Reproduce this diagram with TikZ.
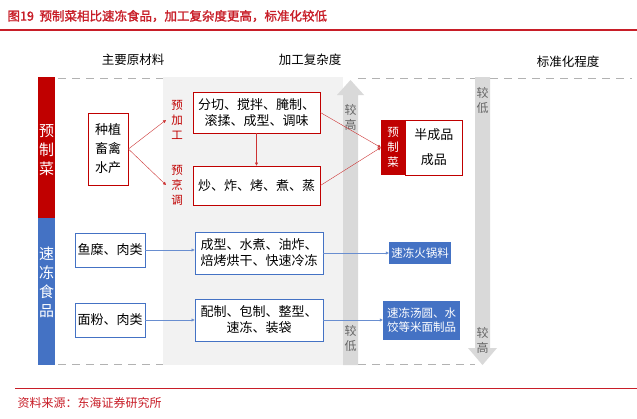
\documentclass[tikz,border=0pt]{standalone}
\usepackage{fontspec}
\setmainfont{Noto Sans CJK SC}
\newfontfamily\cjkb[FakeBold=1.5]{Noto Sans CJK SC}
\usetikzlibrary{arrows.meta}
\definecolor{rd}{RGB}{192,0,0}
\definecolor{tred}{RGB}{200,30,40}
\definecolor{bl}{RGB}{68,114,196}
\definecolor{gp}{RGB}{242,242,242}
\definecolor{ga}{RGB}{217,217,217}
\begin{document}
\begin{tikzpicture}[x=1pt,y=-1pt,
  rbox/.style={draw=rd,thick,fill=white,align=center,font=\fontsize{13}{16}\selectfont,inner sep=0pt},
  bbox/.style={draw=bl,thick,fill=white,align=center,font=\fontsize{13}{16}\selectfont,inner sep=0pt},
  bfill/.style={fill=bl,text=white,align=center,font=\fontsize{11.5}{14}\selectfont,inner sep=0pt},
  rarr/.style={-{Triangle[length=3pt,width=3pt]},draw=rd!80,thin},
  barr/.style={-{Triangle[length=3pt,width=3pt]},draw=bl!80,thin},
  vt/.style={align=center,font=\fontsize{12}{15}\selectfont,text=gray!80!black},
  lbl/.style={font=\fontsize{12.5}{14}\selectfont},
]
\useasboundingbox (0,0) rectangle (637,418);
\fill[white] (0,0) rectangle (637,418);
\node[anchor=west,text=tred,font=\cjkb\fontsize{12.5}{14}\selectfont] (title) at (4,16) {图19\ \ 预制菜相比速冻食品，加工复杂度更高，标准化较低};
\draw[tred,line width=1.2pt] (0,30) -- (637,30);
\node[lbl] (h1) at (133,60) {主要原材料};
\node[lbl] (h2) at (310,60) {加工复杂度};
\node[lbl] (h3) at (568,62) {标准化程度};
% panel
\fill[gp] (163,77) rectangle (343,365);
\draw[gray!60,dash pattern=on 8pt off 6pt,line width=1pt] (58,78) -- (163,78) (358,78) -- (475,78) (490,78)--(632,78);
\draw[gray!60,dash pattern=on 8pt off 6pt,line width=1pt] (58,364) -- (163,364) (358,364) -- (475,364);
% vertical arrows
\fill[ga] (343,365) -- (343,95) -- (337,95) -- (350.5,80) -- (364,95) -- (358,95) -- (358,365) -- cycle;
\node[vt] (gh) at (350.5,117) {较\\高};
\node[vt] (gl) at (350.5,338) {较\\低};
\fill[ga] (475,77) -- (490,77) -- (490,348) -- (497,348) -- (482.5,365) -- (468,348) -- (475,348) -- cycle;
\node[vt] (rl) at (482.5,100) {较\\低};
\node[vt] (rh) at (482.5,340) {较\\高};
% side bars
\fill[rd] (38,77) rectangle (55,218);
\fill[bl] (38,218) rectangle (55,365);
\node[text=white,align=center,font=\fontsize{15}{19}\selectfont] (s1) at (46.5,150) {预\\制\\菜};
\node[text=white,align=center,font=\fontsize{15}{19}\selectfont] (s2) at (46.5,282) {速\\冻\\食\\品};
% red section
\node[rbox,minimum width=40pt,minimum height=72pt,font=\fontsize{13}{19}\selectfont] (raw) at (108,149) {种植\\畜禽\\水产};
\node[text=rd,align=center,font=\fontsize{11.5}{15}\selectfont] (p1) at (177,120) {预\\加\\工};
\node[text=rd,align=center,font=\fontsize{11.5}{15}\selectfont] (p2) at (177,185) {预\\烹\\调};
\node[rbox,minimum width=127pt,minimum height=41pt] (b1) at (256.5,112.5) {分切、搅拌、腌制、\\滚揉、成型、调味};
\node[rbox,minimum width=127pt,minimum height=39pt] (b2) at (256.5,185.5) {炒、炸、烤、煮、蒸};
\node[fill=rd,text=white,align=center,minimum width=24pt,minimum height=55pt,inner sep=0pt,font=\fontsize{11.5}{15}\selectfont] (pr) at (393,147.5) {预\\制\\菜};
\node[draw=rd,thick,minimum width=57pt,minimum height=55pt,inner sep=0pt,anchor=west,align=center,font=\fontsize{13}{25}\selectfont] (pw) at (405,147.5) {半成品\\成品};
\coordinate (c1) at (166,120);
\coordinate (c2) at (166,185);
\draw[rarr] (raw.east) -- (c1);
\draw[rarr] (raw.east) -- (c2);
\draw[rarr] (b1.south) -- (b2.north);
\draw[rarr] (b1.east) -- (pr.west);
\draw[rarr] (b2.east) -- (pr.west);
% blue section
\node[bbox,minimum width=70pt,minimum height=34pt] (m1) at (110,250) {鱼糜、肉类};
\node[bbox,minimum width=128pt,minimum height=42pt] (q1) at (259,253) {成型、水煮、油炸、\\焙烤烘干、快速冷冻};
\node[bfill,minimum width=62pt,minimum height=22pt] (o1) at (420,253) {速冻火锅料};
\node[bbox,minimum width=70pt,minimum height=34pt] (m2) at (110,320) {面粉、肉类};
\node[bbox,minimum width=128pt,minimum height=42pt] (q2) at (259,320) {配制、包制、整型、\\速冻、装袋};
\node[bfill,minimum width=77pt,minimum height=39pt] (o2) at (421.5,320) {速冻汤圆、水\\饺等米面制品};
\draw[barr] (m1.east) -- (q1.west|-m1.east);
\draw[barr] (q1.east) -- (o1.west);
\draw[barr] (m2.east) -- (q2.west|-m2.east);
\draw[barr] (q2.east) -- (o2.west);
% footer
\draw[tred,line width=1pt] (15,388) -- (637,388);
\node[anchor=west,text=tred,font=\fontsize{12}{14}\selectfont] (src) at (14,403) {资料来源：东海证券研究所};
\end{tikzpicture}
\end{document}
